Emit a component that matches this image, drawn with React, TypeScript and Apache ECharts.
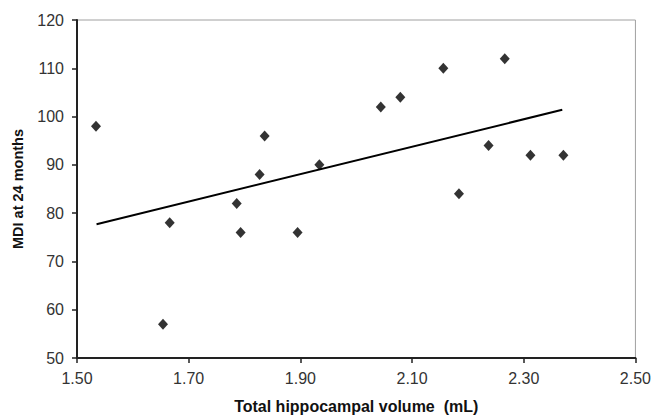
import React, { useEffect, useRef } from "react";
import * as echarts from "echarts";

const volumes = [1.534, 1.654, 1.666, 1.786, 1.793, 1.827, 1.836, 1.895, 1.934, 2.044, 2.079, 2.156, 2.184, 2.237, 2.266, 2.312, 2.371];
const mdi = [98, 57, 78, 82, 76, 88, 96, 76, 90, 102, 104, 110, 84, 94, 112, 92, 92];
const trendX = [1.535, 2.369];
const trendY = [77.7, 101.4];

export default function App() {
  const ref = useRef<HTMLDivElement>(null);
  useEffect(() => {
    if (!ref.current) return;
    const chart = echarts.init(ref.current, null, { renderer: "svg" });
    const font = "'Liberation Sans', Arial, sans-serif";
    chart.setOption({
      animation: false,
      backgroundColor: "#ffffff",
      grid: {
        left: 77,
        right: 17,
        top: 20,
        bottom: 60,
        show: true,
        borderColor: "#a0a0a0",
        borderWidth: 1,
      },
      xAxis: {
        type: "value",
        min: 1.5,
        max: 2.5,
        interval: 0.2,
        name: "Total hippocampal volume\u00a0\u00a0(mL)",
        nameLocation: "middle",
        nameGap: 40,
        nameTextStyle: { fontFamily: font, fontSize: 16, fontWeight: "bold", color: "#111" },
        axisLine: { show: true, lineStyle: { color: "#222", width: 2 } },
        axisTick: { show: true, length: 5, lineStyle: { color: "#222", width: 1.5 } },
        axisLabel: {
          fontFamily: font,
          fontSize: 16,
          color: "#333",
          margin: 12,
          formatter: (v: number) => v.toFixed(2),
        },
        splitLine: { show: false },
      },
      yAxis: {
        type: "value",
        min: 50,
        max: 120,
        interval: 10,
        name: "MDI at 24 months",
        nameLocation: "middle",
        nameGap: 52,
        nameTextStyle: { fontFamily: font, fontSize: 14.5, fontWeight: "bold", color: "#111" },
        axisLine: { show: true, lineStyle: { color: "#222", width: 2 } },
        axisTick: { show: true, length: 5, lineStyle: { color: "#222", width: 1.5 } },
        axisLabel: { fontFamily: font, fontSize: 16, color: "#333", margin: 13 },
        splitLine: { show: false },
      },
      series: [
        {
          type: "line",
          data: trendX.map((x, i) => [x, trendY[i]]),
          symbol: "none",
          lineStyle: { color: "#000", width: 2 },
          z: 2,
        },
        {
          type: "scatter",
          data: volumes.map((x, i) => [x, mdi[i]]),
          symbol: "diamond",
          symbolSize: [10, 11],
          itemStyle: { color: "#000" },
          z: 3,
        },
      ],
    });
    return () => chart.dispose();
  }, []);
  return <div ref={ref} style={{ position: "absolute", left: 0, top: 0, width: 654, height: 419 }} />;
}
